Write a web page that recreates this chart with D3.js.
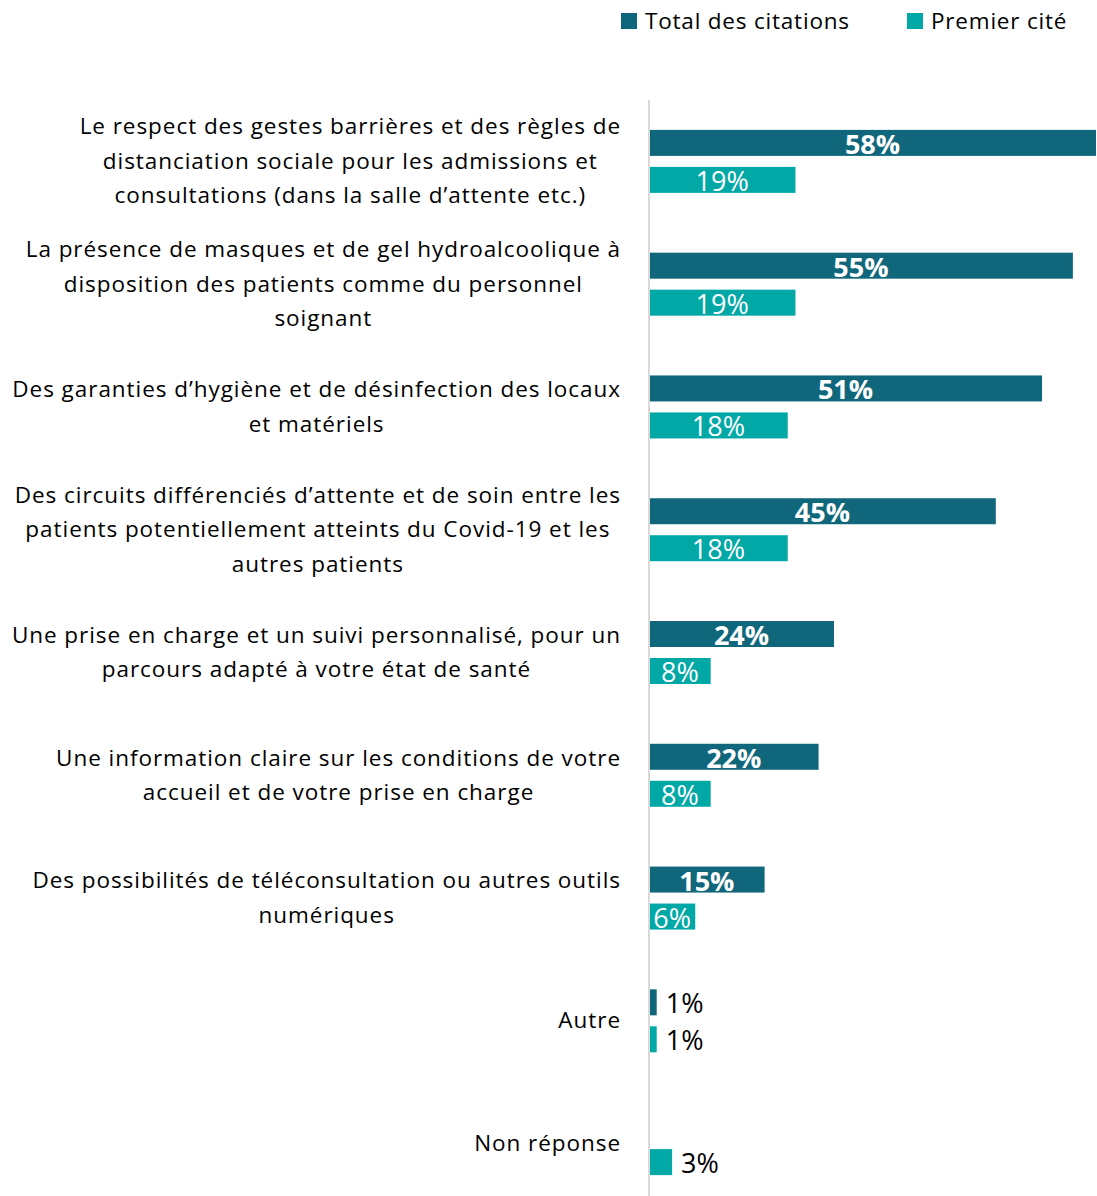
<!DOCTYPE html>
<html>
<head>
<meta charset="utf-8">
<script src="https://cdn.jsdelivr.net/npm/d3@7"></script>
<style>
  body { margin: 0; background: #fff; }
  svg { display: block; font-family: "Open Sans", sans-serif; }
</style>
</head>
<body>
<svg id="chart"></svg>
<script>
// data
const categories = [
  "Le respect des gestes barrières et des règles de|distanciation sociale pour les admissions et|consultations (dans la salle d’attente etc.)",
  "La présence de masques et de gel hydroalcoolique à|disposition des patients comme du personnel|soignant",
  "Des garanties d’hygiène et de désinfection des locaux|et matériels",
  "Des circuits différenciés d’attente et de soin entre les|patients potentiellement atteints du Covid-19 et les|autres patients",
  "Une prise en charge et un suivi personnalisé, pour un|parcours adapté à votre état de santé",
  "Une information claire sur les conditions de votre|accueil et de votre prise en charge",
  "Des possibilités de téléconsultation ou autres outils|numériques",
  "Autre",
  "Non réponse"
];
const seriesNames = ["Total des citations", "Premier cité"];
const totalValues = [58, 55, 51, 45, 24, 22, 15, 1, null];
const firstValues = [19, 19, 18, 18, 8, 8, 6, 1, 3];
const colors = ["#10677c", "#02a8a6"];

const width = 1097, height = 1196;
const axisX = 649;

const svg = d3.select("#chart").attr("width", width).attr("height", height);

const y = d3.scaleBand().domain(d3.range(categories.length)).range([100, 1205]).padding(0);
const x = d3.scaleLinear().domain([0, 58]).range([axisX, 1096]);
const sub = d3.scaleBand().domain([0, 1]).range([-31.5, 31.5]).paddingInner(0.297);

const rows = [];
categories.forEach((c, i) => {
  [totalValues[i], firstValues[i]].forEach((v, s) => {
    if (v != null) rows.push({cat: i, s: s, v: v});
  });
});

// bars + value labels
const defs = svg.append("defs");
const g = svg.append("g");
rows.forEach((d, k) => {
  const cy = y(d.cat) + y.bandwidth() / 2;
  const by = cy + sub(d.s);
  const bw = x(d.v) - x(0);
  g.append("rect")
    .attr("x", x(0)).attr("y", by)
    .attr("width", bw).attr("height", sub.bandwidth())
    .attr("fill", colors[d.s]);
  const inside = bw > 40;
  if (inside) {
    defs.append("clipPath").attr("id", "clip" + k)
      .append("rect").attr("x", x(0)).attr("y", by).attr("width", bw).attr("height", sub.bandwidth());
    g.append("text")
      .attr("clip-path", "url(#clip" + k + ")")
      .attr("x", x(0) + bw / 2).attr("y", by + sub.bandwidth() - 2)
      .attr("text-anchor", "middle")
      .attr("fill", "#fff")
      .attr("font-size", 27)
      .attr("font-weight", d.s === 0 ? "bold" : "normal")
      .text(d.v + "%");
  } else {
    g.append("text")
      .attr("x", x(d.v) + 9).attr("y", by + sub.bandwidth() - 2)
      .attr("fill", "#000")
      .attr("font-size", 27)
      .text(d.v + "%");
  }
});

// axis line
svg.append("line")
  .attr("x1", axisX).attr("x2", axisX)
  .attr("y1", 100).attr("y2", height)
  .attr("stroke", "#d9d9d9").attr("stroke-width", 2);

// category labels: lines centred within a block that is right-aligned
const labelRight = 621, lineH = 34.5;
categories.forEach((c, i) => {
  const lines = c.split("|");
  const cy = y(i) + y.bandwidth() / 2;
  const t = svg.append("text").attr("font-size", 22.5).attr("letter-spacing", 0.95).attr("fill", "#000");
  const spans = lines.map((l, j) => t.append("tspan")
    .attr("y", cy + (j - (lines.length - 1) / 2) * lineH + 7.5)
    .text(l));
  const maxW = d3.max(spans, s => s.node().getComputedTextLength());
  spans.forEach(s => s.attr("x", labelRight - maxW / 2).attr("text-anchor", "middle"));
});

// legend
const legendX = [621, 907];
seriesNames.forEach((n, s) => {
  svg.append("rect").attr("x", legendX[s]).attr("y", 13).attr("width", 16).attr("height", 16).attr("fill", colors[s]);
  svg.append("text").attr("x", legendX[s] + 24).attr("y", 29)
    .attr("font-size", 22.5).attr("letter-spacing", 0.8).attr("fill", "#000").text(n);
});
</script>
</body>
</html>
